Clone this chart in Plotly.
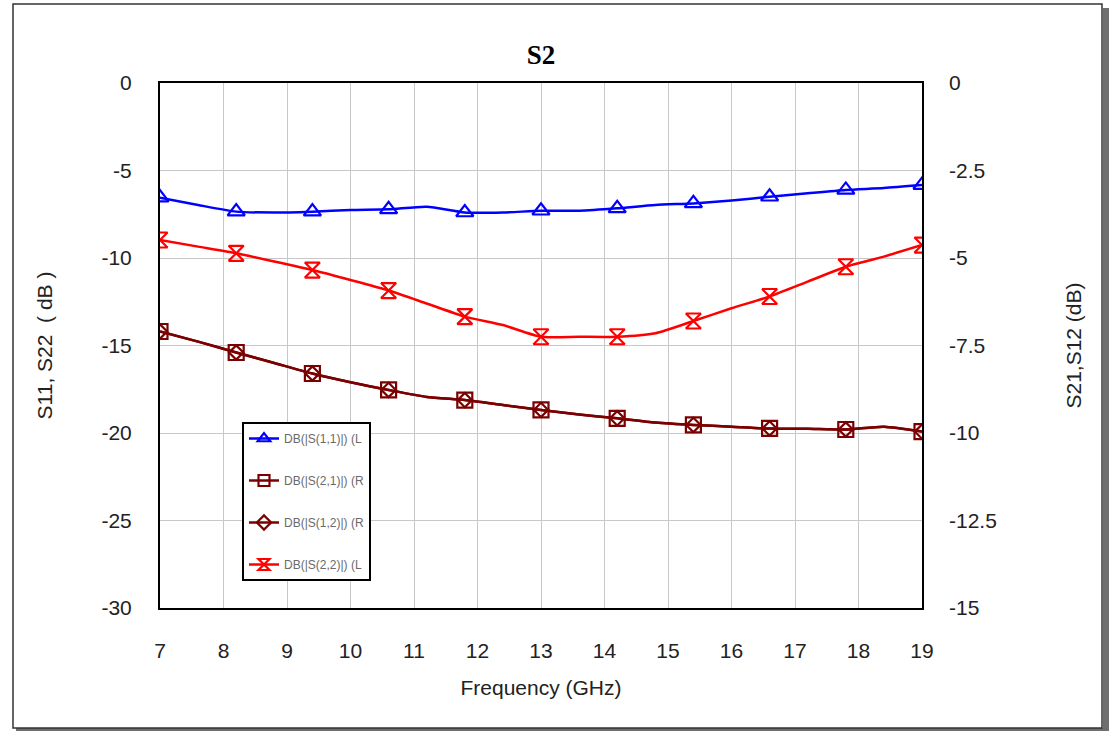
import plotly.graph_objects as go

freq = [7.0, 7.6, 8.2, 8.8, 9.4, 10.0, 10.6, 11.2, 11.8, 12.4, 13.0,
        13.6, 14.2, 14.8, 15.4, 16.0, 16.6, 17.2, 17.8, 18.4, 19.0]
s11 = [-6.55, -6.97, -7.35, -7.4, -7.35, -7.26, -7.22, -7.07, -7.4, -7.4, -7.3,
       -7.3, -7.16, -6.97, -6.88, -6.72, -6.5, -6.3, -6.11, -6.0, -5.83]
s22 = [-8.97, -9.35, -9.73, -10.2, -10.69, -11.26, -11.86, -12.6, -13.35, -13.83, -14.5,
       -14.5, -14.5, -14.3, -13.6, -12.87, -12.2, -11.35, -10.5, -9.92, -9.26]
s21 = [-7.1, -7.39, -7.7, -8.0, -8.3, -8.55, -8.77, -8.97, -9.06, -9.2, -9.34,
       -9.47, -9.58, -9.7, -9.77, -9.82, -9.87, -9.88, -9.9, -9.82, -9.96]
s12 = list(s21)

names = ["DB(|S(1,1)|) (L", "DB(|S(2,1)|) (R", "DB(|S(1,2)|) (R", "DB(|S(2,2)|) (L"]
left_ticks = [0, -5, -10, -15, -20, -25, -30]
left_labels = ["0", "-5", "-10", "-15", "-20", "-25", "-30"]
right_ticks = [0, -2.5, -5, -7.5, -10, -12.5, -15]
right_labels = ["0", "-2.5", "-5", "-7.5", "-10", "-12.5", "-15"]
x_ticks = list(range(7, 20))

BLUE = "#0000FF"
RED = "#FF0000"
MAROON = "#7B0000"

fig = go.Figure()

series = [
    (s11, names[0], BLUE, "triangle-up-open", "y", 15),
    (s21, names[1], MAROON, "square-open", "y2", 15),
    (s12, names[2], MAROON, "diamond-open", "y2", 11),
    (s22, names[3], RED, "hourglass-open", "y", 15),
]

for i, (vals, name, col, sym, ax, msz) in enumerate(series):
    # smooth curve
    fig.add_trace(go.Scatter(
        x=freq, y=vals, mode="lines", yaxis=ax,
        line=dict(color=col, width=2.5, shape="spline", smoothing=0.6),
        showlegend=False, hoverinfo="skip"))
    # markers
    fig.add_trace(go.Scatter(
        x=freq[::2], y=vals[::2], mode="markers", yaxis=ax, showlegend=False,
        marker=dict(symbol=sym, size=msz, color=col, line=dict(color=col, width=2.2))))
    # legend entry
    fig.add_trace(go.Scatter(
        x=[None], y=[None], mode="lines+markers", yaxis=ax, name=name,
        legendgroup=f"g{i}", line=dict(color=col, width=2.5),
        marker=dict(symbol=sym, size=11, color=col, line=dict(color=col, width=2.2))))

FONT = "Liberation Sans, Arial"
TXT = "#222"


def px_x(p):
    return (p - 160) / 762


def px_y(p):
    return (608 - p) / 525


fig.update_layout(
    width=1111, height=731,
    margin=dict(l=160, r=189, t=83, b=123),
    paper_bgcolor="white", plot_bgcolor="white",
    title=dict(text="<b>S2</b>", x=541 / 1111, xanchor="center",
               y=1 - 55 / 731, yanchor="middle",
               font=dict(family="Liberation Serif, Times New Roman, serif", size=27, color="black")),
    xaxis=dict(range=[7, 19], tickvals=x_ticks, showgrid=True, gridcolor="#c8c8c8", gridwidth=1.3,
               showline=True, mirror=True, linecolor="black", linewidth=2, zeroline=False,
               ticks="", ticklabelstandoff=23,
               tickfont=dict(family=FONT, size=21, color=TXT),
               title=dict(text="Frequency (GHz)", standoff=19,
                          font=dict(family=FONT, size=21, color=TXT))),
    yaxis=dict(range=[-30, 0], tickvals=left_ticks, ticktext=left_labels,
               showgrid=True, gridcolor="#c8c8c8", gridwidth=1.3,
               showline=True, mirror=True, linecolor="black", linewidth=2, zeroline=False,
               ticks="", ticklabelstandoff=22,
               tickfont=dict(family=FONT, size=21, color=TXT),
               title=dict(text="S11, S22  ( dB )", standoff=43,
                          font=dict(family=FONT, size=21, color=TXT))),
    yaxis2=dict(range=[-15, 0], tickvals=right_ticks, ticktext=right_labels,
                overlaying="y", side="right",
                showgrid=False, zeroline=False, ticks="", ticklabelstandoff=26,
                tickfont=dict(family=FONT, size=21, color=TXT),
                title=dict(text="S21,S12 (dB)", standoff=70,
                           font=dict(family=FONT, size=21, color=TXT))),
    legend=dict(x=px_x(242), y=px_y(422), xanchor="left", yanchor="top",
                bgcolor="white", bordercolor="black", borderwidth=2,
                font=dict(family="Liberation Sans, Arial", size=12, color="#6a6a6a"),
                tracegroupgap=23, itemwidth=30),
    shapes=[
        dict(type="rect", xref="paper", yref="paper",
             x0=px_x(1103), x1=px_x(1109), y0=px_y(731), y1=px_y(8),
             line=dict(width=0), fillcolor="#6e6e6e", layer="below"),
        dict(type="rect", xref="paper", yref="paper",
             x0=px_x(16), x1=px_x(1109), y0=px_y(731), y1=px_y(728),
             line=dict(width=0), fillcolor="#6e6e6e", layer="below"),
        dict(type="rect", xref="paper", yref="paper",
             x0=px_x(13), x1=px_x(1102), y0=px_y(728), y1=px_y(4),
             line=dict(color="#333", width=1.5), fillcolor="rgba(0,0,0,0)", layer="below"),
    ],
)

fig.write_html("out.html", config={"displayModeBar": False},
               post_script="document.body.style.margin='0';document.body.style.overflow='hidden';")
